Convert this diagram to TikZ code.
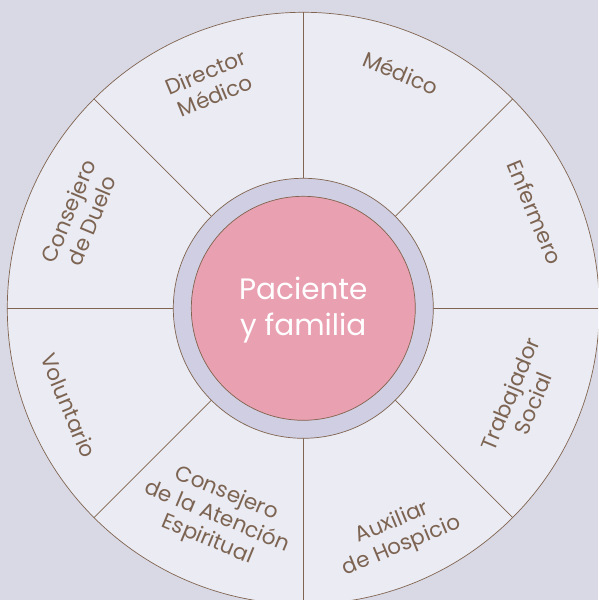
\documentclass[tikz,border=0pt]{standalone}
\usepackage{fontspec}
\setmainfont{Poppins}

\definecolor{bgcol}{HTML}{D9D9E6}
\definecolor{sectorcol}{HTML}{EAEBF3}
\definecolor{ringcol}{HTML}{CFCEE2}
\definecolor{pinkcol}{HTML}{E9A0B1}
\definecolor{linebrown}{HTML}{80644F}
\definecolor{txtbrown}{HTML}{7D6452}

\begin{document}
\begin{tikzpicture}[x=1pt,y=1pt,
  wheelline/.style={linebrown, line width=0.7pt},
  rolelabel/.style={text=txtbrown, font=\fontsize{21.5}{25}\selectfont, align=center, inner sep=0pt}]

% BACKGROUND
  \fill[bgcol] (0,0) rectangle (598,600);
  \useasboundingbox (0,0) rectangle (598,600);
  \clip (0,0) rectangle (598,600);

\begin{scope}[shift={(303.3,291.7)}]

% OUTER WHEEL
  \draw[wheelline, fill=sectorcol] (0,0) circle (296);

% SPOKES
  \foreach \a in {0,45,...,315}
      \draw[wheelline] (\a:130) -- (\a:296);

% RING AND CENTRE
  \draw[wheelline, fill=ringcol] (0,0) circle (130);
  \draw[wheelline, fill=pinkcol] (0,0) circle (112);
  \node[text=white, font=\fontsize{29.5}{36}\selectfont, align=center] (paciente) at (0,-1.5) {Paciente\\y familia};

% UPPER ROLES
  \node[rolelabel, rotate=22.5]  (director)  at (112.5:243) {Director\\Médico};
  \node[rolelabel, rotate=-22.5] (medico)    at (67.5:255)  {Médico};
  \node[rolelabel, rotate=-67.5] (enfermero) at (22.5:251)  {Enfermero};
  \node[rolelabel, rotate=67.5]  (duelo)     at (157.5:242) {Consejero\\de Duelo};

% LOWER ROLES
  \node[rolelabel, rotate=67.5]  (social)     at (-22.5:236)  {Trabajador\\Social};
  \node[rolelabel, rotate=22.5]  (auxiliar)   at (-67.5:245)  {Auxiliar\\de Hospicio};
  \node[rolelabel, rotate=-22.5] (espiritual) at (-112.5:226) {Consejero\\de la Atención\\Espiritual};
  \node[rolelabel, rotate=-67.5] (voluntario) at (-157.5:254) {Voluntario};

\end{scope}
\end{tikzpicture}
\end{document}
